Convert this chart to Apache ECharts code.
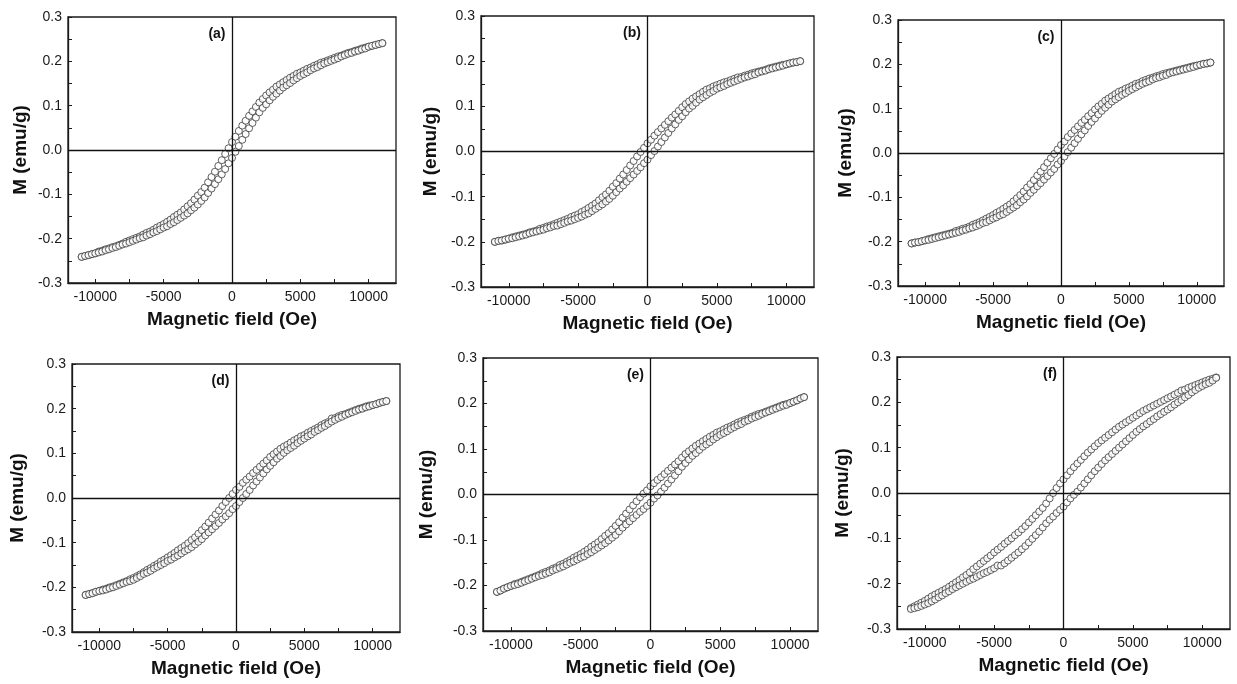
<!DOCTYPE html>
<html><head><meta charset="utf-8">
<script src="https://cdn.jsdelivr.net/npm/echarts@6/dist/echarts.min.js"></script>
<style>html,body{margin:0;padding:0;background:#fff}#c{width:1237px;height:684px}</style>
</head><body><div id="c"></div><script>
// Magnetic field grid (Oe)
const H = [-11000,-10750,-10500,-10250,-10000,-9750,-9500,-9250,-9000,-8750,-8500,-8250,-8000,-7750,-7500,-7250,-7000,-6750,-6500,-6250,-6000,-5750,-5500,-5250,-5000,-4750,-4500,-4250,-4000,-3750,-3500,-3250,-3000,-2750,-2500,-2250,-2000,-1750,-1500,-1250,-1000,-750,-500,-250,0,250,500,750,1000,1250,1500,1750,2000,2250,2500,2750,3000,3250,3500,3750,4000,4250,4500,4750,5000,5250,5500,5750,6000,6250,6500,6750,7000,7250,7500,7750,8000,8250,8500,8750,9000,9250,9500,9750,10000,10250,10500,10750,11000];

// (a) descending (upper) and ascending (lower) branches, emu/g
const aUp = [-0.241,-0.239,-0.237,-0.235,-0.233,-0.229,-0.227,-0.224,-0.222,-0.219,-0.217,-0.214,-0.211,-0.207,-0.204,-0.201,-0.198,-0.195,-0.191,-0.187,-0.184,-0.180,-0.175,-0.171,-0.167,-0.162,-0.157,-0.151,-0.146,-0.141,-0.134,-0.127,-0.120,-0.112,-0.103,-0.095,-0.085,-0.073,-0.061,-0.049,-0.036,-0.023,-0.009,0.004,0.018,0.030,0.043,0.055,0.066,0.077,0.087,0.097,0.107,0.115,0.123,0.130,0.136,0.143,0.148,0.153,0.158,0.163,0.167,0.172,0.175,0.179,0.183,0.186,0.190,0.193,0.197,0.199,0.202,0.205,0.208,0.211,0.213,0.216,0.219,0.221,0.224,0.226,0.229,0.231,0.233,0.235,0.237,0.239,0.241];
const aLo = [-0.241,-0.239,-0.237,-0.235,-0.233,-0.231,-0.229,-0.226,-0.224,-0.221,-0.219,-0.216,-0.213,-0.211,-0.208,-0.205,-0.202,-0.199,-0.197,-0.193,-0.190,-0.186,-0.183,-0.179,-0.175,-0.172,-0.167,-0.163,-0.158,-0.153,-0.148,-0.143,-0.136,-0.130,-0.123,-0.115,-0.107,-0.097,-0.087,-0.077,-0.066,-0.055,-0.043,-0.030,-0.018,-0.004,0.009,0.023,0.036,0.049,0.061,0.073,0.085,0.095,0.103,0.112,0.120,0.127,0.134,0.141,0.146,0.151,0.157,0.162,0.167,0.171,0.175,0.180,0.184,0.187,0.191,0.195,0.198,0.201,0.204,0.207,0.211,0.214,0.217,0.219,0.222,0.224,0.227,0.229,0.233,0.235,0.237,0.239,0.241];

// (b)
const bUp = [-0.200,-0.198,-0.197,-0.195,-0.193,-0.190,-0.188,-0.186,-0.184,-0.182,-0.179,-0.177,-0.175,-0.171,-0.169,-0.166,-0.164,-0.161,-0.158,-0.155,-0.152,-0.149,-0.145,-0.142,-0.139,-0.134,-0.130,-0.125,-0.120,-0.115,-0.108,-0.101,-0.095,-0.087,-0.078,-0.070,-0.060,-0.051,-0.041,-0.031,-0.021,-0.011,-0.001,0.008,0.018,0.026,0.035,0.043,0.051,0.059,0.067,0.075,0.082,0.090,0.098,0.105,0.111,0.117,0.122,0.127,0.132,0.137,0.140,0.144,0.147,0.150,0.153,0.155,0.158,0.161,0.164,0.165,0.168,0.170,0.173,0.175,0.177,0.179,0.181,0.184,0.186,0.188,0.190,0.192,0.193,0.195,0.197,0.198,0.200];
const bLo = [-0.200,-0.198,-0.197,-0.195,-0.193,-0.192,-0.190,-0.188,-0.186,-0.184,-0.181,-0.179,-0.177,-0.175,-0.173,-0.170,-0.168,-0.165,-0.164,-0.161,-0.158,-0.155,-0.153,-0.150,-0.147,-0.144,-0.140,-0.137,-0.132,-0.127,-0.122,-0.117,-0.111,-0.105,-0.098,-0.090,-0.082,-0.075,-0.067,-0.059,-0.051,-0.043,-0.035,-0.026,-0.018,-0.008,0.001,0.011,0.021,0.031,0.041,0.051,0.060,0.070,0.078,0.087,0.095,0.101,0.108,0.115,0.120,0.125,0.130,0.134,0.139,0.142,0.145,0.149,0.152,0.155,0.158,0.161,0.164,0.166,0.169,0.171,0.175,0.177,0.179,0.182,0.184,0.186,0.188,0.190,0.193,0.195,0.197,0.198,0.200];

// (c)
const cUp = [-0.204,-0.202,-0.201,-0.199,-0.197,-0.194,-0.192,-0.190,-0.188,-0.186,-0.184,-0.182,-0.180,-0.176,-0.174,-0.171,-0.169,-0.166,-0.162,-0.159,-0.156,-0.152,-0.148,-0.144,-0.140,-0.135,-0.131,-0.126,-0.121,-0.116,-0.109,-0.102,-0.095,-0.087,-0.078,-0.070,-0.061,-0.051,-0.042,-0.032,-0.022,-0.012,-0.002,0.008,0.018,0.026,0.036,0.044,0.052,0.060,0.068,0.075,0.083,0.090,0.098,0.105,0.111,0.118,0.123,0.128,0.133,0.138,0.141,0.145,0.148,0.152,0.156,0.158,0.162,0.165,0.168,0.170,0.173,0.175,0.178,0.180,0.182,0.184,0.186,0.188,0.190,0.192,0.194,0.196,0.197,0.199,0.201,0.202,0.204];
const cLo = [-0.204,-0.202,-0.201,-0.199,-0.197,-0.196,-0.194,-0.192,-0.190,-0.188,-0.186,-0.184,-0.182,-0.180,-0.178,-0.175,-0.173,-0.170,-0.168,-0.165,-0.162,-0.158,-0.156,-0.152,-0.148,-0.145,-0.141,-0.138,-0.133,-0.128,-0.123,-0.118,-0.111,-0.105,-0.098,-0.090,-0.083,-0.075,-0.068,-0.060,-0.052,-0.044,-0.036,-0.026,-0.018,-0.008,0.002,0.012,0.022,0.032,0.042,0.051,0.061,0.070,0.078,0.087,0.095,0.102,0.109,0.116,0.121,0.126,0.131,0.135,0.140,0.144,0.148,0.152,0.156,0.159,0.162,0.166,0.169,0.171,0.174,0.176,0.180,0.182,0.184,0.186,0.188,0.190,0.192,0.194,0.197,0.199,0.201,0.202,0.204];

// (d)
const dUp = [-0.217,-0.215,-0.213,-0.210,-0.208,-0.205,-0.203,-0.200,-0.198,-0.195,-0.192,-0.189,-0.186,-0.182,-0.179,-0.175,-0.171,-0.166,-0.161,-0.157,-0.152,-0.148,-0.142,-0.138,-0.133,-0.128,-0.123,-0.117,-0.112,-0.107,-0.101,-0.094,-0.088,-0.080,-0.072,-0.064,-0.055,-0.046,-0.037,-0.028,-0.018,-0.009,0.000,0.009,0.018,0.025,0.034,0.041,0.048,0.056,0.063,0.070,0.077,0.084,0.092,0.098,0.104,0.110,0.115,0.119,0.124,0.129,0.133,0.138,0.141,0.146,0.150,0.154,0.158,0.163,0.167,0.170,0.178,0.179,0.183,0.186,0.188,0.191,0.194,0.197,0.200,0.202,0.205,0.207,0.208,0.210,0.213,0.215,0.217];
const dLo = [-0.217,-0.215,-0.213,-0.210,-0.208,-0.207,-0.205,-0.202,-0.200,-0.197,-0.194,-0.191,-0.188,-0.186,-0.183,-0.179,-0.175,-0.170,-0.167,-0.163,-0.158,-0.154,-0.150,-0.146,-0.141,-0.138,-0.133,-0.129,-0.124,-0.119,-0.115,-0.110,-0.104,-0.098,-0.092,-0.084,-0.077,-0.070,-0.063,-0.056,-0.048,-0.041,-0.034,-0.025,-0.018,-0.009,0.000,0.009,0.018,0.028,0.037,0.046,0.055,0.064,0.072,0.080,0.088,0.094,0.101,0.107,0.112,0.117,0.123,0.128,0.133,0.138,0.142,0.148,0.152,0.157,0.161,0.166,0.171,0.175,0.179,0.182,0.186,0.189,0.192,0.195,0.198,0.200,0.203,0.205,0.208,0.210,0.213,0.215,0.217];

// (e)
const eUp = [-0.214,-0.211,-0.207,-0.204,-0.201,-0.197,-0.195,-0.192,-0.189,-0.186,-0.183,-0.180,-0.177,-0.173,-0.170,-0.167,-0.163,-0.160,-0.155,-0.152,-0.148,-0.144,-0.139,-0.135,-0.131,-0.126,-0.121,-0.115,-0.110,-0.105,-0.098,-0.091,-0.085,-0.077,-0.069,-0.061,-0.051,-0.042,-0.033,-0.024,-0.015,-0.006,0.002,0.009,0.018,0.025,0.032,0.038,0.045,0.052,0.059,0.066,0.073,0.081,0.089,0.095,0.101,0.107,0.112,0.117,0.122,0.127,0.131,0.136,0.139,0.143,0.147,0.150,0.154,0.158,0.161,0.164,0.167,0.171,0.174,0.177,0.179,0.182,0.185,0.188,0.191,0.194,0.197,0.199,0.201,0.204,0.207,0.211,0.214];
const eLo = [-0.214,-0.211,-0.207,-0.204,-0.201,-0.199,-0.197,-0.194,-0.191,-0.188,-0.185,-0.182,-0.179,-0.177,-0.174,-0.171,-0.167,-0.164,-0.161,-0.158,-0.154,-0.150,-0.147,-0.143,-0.139,-0.136,-0.131,-0.127,-0.122,-0.117,-0.112,-0.107,-0.101,-0.095,-0.089,-0.081,-0.073,-0.066,-0.059,-0.052,-0.045,-0.038,-0.032,-0.025,-0.018,-0.009,-0.002,0.006,0.015,0.024,0.033,0.042,0.051,0.061,0.069,0.077,0.085,0.091,0.098,0.105,0.110,0.115,0.121,0.126,0.131,0.135,0.139,0.144,0.148,0.152,0.155,0.160,0.163,0.167,0.170,0.173,0.177,0.180,0.183,0.186,0.189,0.192,0.195,0.197,0.201,0.204,0.207,0.211,0.214];

// (f)
const fUp = [-0.254,-0.250,-0.246,-0.242,-0.238,-0.233,-0.228,-0.224,-0.220,-0.216,-0.212,-0.207,-0.202,-0.197,-0.192,-0.186,-0.181,-0.175,-0.168,-0.162,-0.156,-0.150,-0.144,-0.138,-0.131,-0.125,-0.119,-0.112,-0.106,-0.100,-0.093,-0.087,-0.080,-0.073,-0.065,-0.057,-0.049,-0.041,-0.033,-0.023,-0.012,0.000,0.011,0.021,0.030,0.039,0.048,0.057,0.065,0.073,0.081,0.089,0.096,0.103,0.110,0.116,0.122,0.128,0.134,0.140,0.146,0.151,0.156,0.161,0.166,0.171,0.176,0.181,0.185,0.189,0.193,0.197,0.201,0.205,0.209,0.213,0.217,0.221,0.226,0.228,0.232,0.235,0.238,0.241,0.244,0.247,0.250,0.252,0.255];
const fLo = [-0.256,-0.254,-0.252,-0.249,-0.246,-0.243,-0.239,-0.235,-0.230,-0.226,-0.221,-0.217,-0.212,-0.208,-0.204,-0.200,-0.196,-0.192,-0.189,-0.185,-0.181,-0.177,-0.174,-0.170,-0.166,-0.160,-0.160,-0.155,-0.149,-0.143,-0.137,-0.131,-0.124,-0.117,-0.109,-0.101,-0.093,-0.085,-0.076,-0.067,-0.059,-0.052,-0.044,-0.037,-0.030,-0.021,-0.012,-0.004,0.003,0.012,0.021,0.030,0.039,0.048,0.056,0.064,0.072,0.079,0.086,0.093,0.100,0.107,0.114,0.121,0.128,0.135,0.141,0.147,0.152,0.158,0.163,0.169,0.174,0.179,0.184,0.189,0.195,0.200,0.205,0.211,0.216,0.222,0.227,0.232,0.236,0.240,0.243,0.248,0.254];

const panelLabels = ['(a)','(b)','(c)','(d)','(e)','(f)'];
const upper = [aUp,bUp,cUp,dUp,eUp,fUp];
const lower = [aLo,bLo,cLo,dLo,eLo,fLo];
const xLabelValues = [-10000,-5000,0,5000,10000];
const xTickValues = [-10000,-7500,-5000,-2500,0,2500,5000,7500,10000];
const xTitle = 'Magnetic field (Oe)';
const yTitle = 'M (emu/g)';

const layout = [
  {left:68,  top:17,  width:328, height:266, gap:38},
  {left:481, top:16,  width:333, height:271, gap:41},
  {left:898, top:20,  width:326, height:266, gap:43},
  {left:72,  top:364, width:328, height:268, gap:45},
  {left:483, top:358, width:335, height:273, gap:47},
  {left:897, top:357, width:333, height:272, gap:45}
];

const FONT = "'Liberation Sans', Arial, sans-serif";
const INK = '#1a1a1a';
const grids = [], xAxes = [], yAxes = [], series = [];
layout.forEach((L, i) => {
  grids.push({left:L.left, top:L.top, width:L.width, height:L.height, show:true,
    borderColor:INK, borderWidth:1.3, backgroundColor:'transparent'});
  xAxes.push({gridIndex:i, type:'value', min:-12000, max:12000,
    splitLine:{show:false},
    axisLine:{show:true, onZero:false, lineStyle:{color:INK, width:1.3}},
    axisTick:{show:true, inside:true, length:4, customValues:xTickValues, lineStyle:{color:INK, width:1}},
    axisLabel:{customValues:xLabelValues, fontSize:14, color:INK, margin:7, fontFamily:FONT,
      formatter:v => String(Math.round(v))},
    name:xTitle, nameLocation:'middle', nameGap:27,
    nameTextStyle:{fontSize:19, fontWeight:'bold', color:'#111', fontFamily:FONT}});
  yAxes.push({gridIndex:i, type:'value', min:-0.3, max:0.3, interval:0.1,
    splitLine:{show:false},
    axisLine:{show:true, onZero:false, lineStyle:{color:INK, width:1.3}},
    axisTick:{show:true, inside:true, length:4, lineStyle:{color:INK, width:1}},
    minorTick:{show:true, splitNumber:2, length:4, lineStyle:{color:INK, width:1}},
    axisLabel:{fontSize:14, color:INK, margin:6, fontFamily:FONT, formatter:v => v.toFixed(1)},
    name:yTitle, nameLocation:'middle', nameRotate:90, nameGap:L.gap,
    nameTextStyle:{fontSize:19, fontWeight:'bold', color:'#111', fontFamily:FONT}});
  const sym = {type:'scatter', xAxisIndex:i, yAxisIndex:i, symbol:'circle', symbolSize:7,
    itemStyle:{color:'#fff', borderColor:'#3a3a3a', borderWidth:1}, silent:true, z:2};
  series.push(Object.assign({}, sym, {data:H.map((h,k)=>[h, upper[i][k]])}));
  series.push(Object.assign({}, sym, {data:H.map((h,k)=>[h, lower[i][k]])}));
  series.push({type:'scatter', xAxisIndex:i, yAxisIndex:i, data:[], z:5, silent:true,
    markLine:{silent:true, symbol:['none','none'], animation:false,
      lineStyle:{color:'#111', width:1.3, type:'solid'}, label:{show:false},
      data:[{xAxis:0},{yAxis:0}]},
    markPoint:{symbol:'circle', symbolSize:1, itemStyle:{color:'rgba(0,0,0,0)'}, animation:false,
      data:[{coord:[0, 0.262], label:{show:true, formatter:panelLabels[i], position:'left', distance:6,
        fontSize:14, fontWeight:'bold', color:'#111', fontFamily:FONT}}]}});
});

const chart = echarts.init(document.getElementById('c'), null, {renderer:'canvas'});
chart.setOption({animation:false, backgroundColor:'#fff', grid:grids, xAxis:xAxes, yAxis:yAxes, series:series});
</script></body></html>
